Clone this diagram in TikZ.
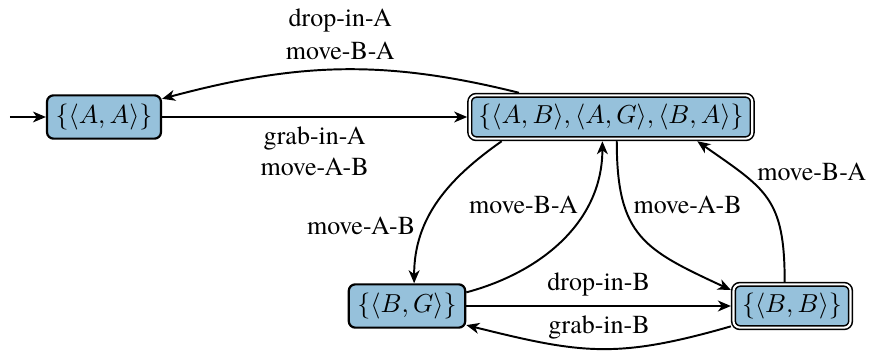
\documentclass[tikz,border=0pt]{standalone}
\usepackage{fontspec}
\setmainfont{texgyretermes-regular.otf}[BoldFont=texgyretermes-bold.otf]
\newfontfamily\lblfont{texgyretermes-regular.otf}
\usetikzlibrary{arrows.meta,calc}
\definecolor{statefill}{RGB}{150,193,219}
\begin{document}
\begin{tikzpicture}[x=0.385pt,y=-0.385pt,
  state/.style={draw, line width=0.85pt, fill=statefill, rounded corners=2.5pt, inner sep=3.33pt},
  dbl/.style={double=white, double distance=0.8pt, line width=0.6pt, outer sep=1pt},
  edge/.style={draw, line width=0.75pt, -{Stealth[length=5pt,width=4.2pt,inset=1.5pt]}},
  lbl/.style={font=\lblfont\fontsize{10}{12}\selectfont, align=center, inner sep=3.33pt}]
\useasboundingbox (0,0) rectangle (873,352);

\node[state] (AA) at (104,117) {$\{\langle A,A\rangle\}$};
\node[state,dbl] (ABG) at (611,117) {$\{\langle A,B\rangle,\langle A,G\rangle,\langle B,A\rangle\}$};
\node[state] (BG) at (407,306) {$\{\langle B,G\rangle\}$};
\node[state,dbl] (BB) at (792,306) {$\{\langle B,B\rangle\}$};

\coordinate (start) at ($(AA.west)+(-36,0)$);

\draw[edge, line width=0.45pt] (start) -- (AA);
\draw[edge] (AA) -- node[lbl, below] {grab-in-A\\move-A-B} (ABG);
\draw[edge] ($(ABG.north west)!0.18!(ABG.north east)$) to[out=166,in=15]
  node[lbl,above] {drop-in-A\\[0.8pt]move-B-A} ($(AA.north east)!0.1!(AA.south east)$);
\draw[edge] ($(ABG.south west)!0.12!(ABG.south east)$) to[out=215,in=90]
  node[lbl,pos=0.67,left] {move-A-B} ($(BG.north west)!0.56!(BG.north east)$);
\draw[edge] ($(BG.north east)!0.2!(BG.south east)$) to[out=15,in=270]
  node[lbl,pos=0.7,left] {move-B-A} ($(ABG.south west)!0.47!(ABG.south east)$);
\draw[edge] ($(ABG.south west)!0.52!(ABG.south east)$) to[out=270,in=155,looseness=1.3]
  node[lbl,pos=0.28,right] {move-A-B} ($(BB.north west)!0.17!(BB.south west)$);
\draw[edge] ($(BB.north west)!0.44!(BB.north east)$) to[out=90,in=-35,looseness=1.3]
  node[lbl,pos=0.75,anchor=west,xshift=3pt] {move-B-A} ($(ABG.south west)!0.8!(ABG.south east)$);
\draw[edge] (BG) -- node[lbl,above] {drop-in-B} (BB);
\draw[edge] ($(BB.north west)!0.92!(BB.south west)$) to[out=196,in=346,looseness=1.15]
  node[lbl,above] {grab-in-B} ($(BG.north east)!0.92!(BG.south east)$);
\end{tikzpicture}
\end{document}
